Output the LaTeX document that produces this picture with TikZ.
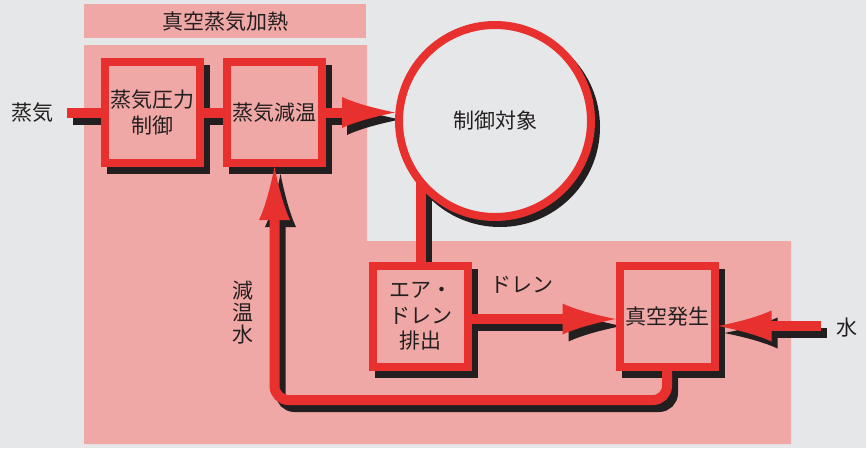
\documentclass[tikz,border=0pt]{standalone}
\usepackage{fontspec}
\newfontfamily\jp{Noto Sans CJK JP}
\usetikzlibrary{arrows.meta}
\definecolor{bg}{HTML}{E6E7E9}
\definecolor{pk}{HTML}{F0A8A6}
\definecolor{rd}{HTML}{E8302F}
\definecolor{sh}{HTML}{231F20}
\pgfdeclarearrow{
  name=Dart,
  parameters={\the\pgfarrowlength,\the\pgfarrowwidth},
  setup code={%
    \pgfarrowssettipend{0pt}%
    \pgfarrowssetlineend{-0.5\pgfarrowlength}%
    \pgfarrowssetbackend{-\pgfarrowlength}%
    \pgfarrowssavethe\pgfarrowlength
    \pgfarrowssavethe\pgfarrowwidth
  },
  drawing code={%
    \pgfpathmoveto{\pgfqpoint{0pt}{0pt}}%
    \pgfpathcurveto{\pgfqpoint{-0.4\pgfarrowlength}{0.14\pgfarrowwidth}}{\pgfqpoint{-0.75\pgfarrowlength}{0.3\pgfarrowwidth}}{\pgfqpoint{-\pgfarrowlength}{0.5\pgfarrowwidth}}%
    \pgfpathlineto{\pgfqpoint{-\pgfarrowlength}{-0.5\pgfarrowwidth}}%
    \pgfpathcurveto{\pgfqpoint{-0.75\pgfarrowlength}{-0.3\pgfarrowwidth}}{\pgfqpoint{-0.4\pgfarrowlength}{-0.14\pgfarrowwidth}}{\pgfqpoint{0pt}{0pt}}%
    \pgfpathclose
    \pgfusepathqfill
  },
  defaults={length=53pt, width=31pt}
}
\tikzset{
  jpfont/.style={font=\jp\fontsize{21}{25.5}\selectfont},
  box/.style={draw=rd, fill=pk, line width=8pt, minimum width=95pt, minimum height=101pt,
              inner sep=0pt, align=center, jpfont, text=sh},
  circ/.style={circle, draw=rd, fill=bg, line width=8pt, minimum size=192pt, inner sep=0pt,
              jpfont, text=sh},
  conn/.style={line width=10pt},
  arr/.style={conn, -{Dart}},
  lbl/.style={jpfont, text=sh, inner sep=0pt},
}
\begin{document}
\begin{tikzpicture}[x=1pt,y=-1pt]
\useasboundingbox (0,0) rectangle (866,448);
\fill[bg] (0,0) rectangle (866,448);
% pink regions
\fill[pk] (84,4) rectangle (366,38);
\fill[pk] (84,45) -- (367,45) -- (367,241) -- (791,241) -- (791,444) -- (84,444) -- cycle;
% shadows
\begin{scope}[shift={(6,7)}]
  \node[box, draw=sh, fill=sh] (b1s) at (152,112.5) {};
  \node[box, draw=sh, fill=sh] (b2s) at (274.5,112.5) {};
  \node[box, draw=sh, fill=sh] (b3s) at (420.5,316.5) {};
  \node[box, draw=sh, fill=sh] (b4s) at (667,316.5) {};
  \node[circ, draw=sh, fill=sh] (cs) at (494,120) {};
  \coordinate (s0s) at (67,113);
  \coordinate (w0s) at (821,326);
  \coordinate (bots) at (470,400);
  \draw[conn, sh] (s0s) -- (s0s -| b1s.west);
  \draw[conn, sh] (b1s.east) -- (b2s.west);
  \draw[arr, sh] (b2s.east) -- (b2s.east -| cs.west);
  \draw[conn, sh] (b3s.north) -- (b3s.north |- cs.center);
  \draw[arr, sh] ([yshift=-2.5pt]b3s.east) -- ([yshift=-2.5pt]b4s.west);
  \draw[arr, sh] (w0s) -- (w0s -| b4s.east);
  \draw[arr, sh, rounded corners=14pt] (b4s.south) |- (bots) -| (b2s.south);
\end{scope}
% coordinates
\coordinate (s0) at (67,113);
\coordinate (w0) at (821,326);
\coordinate (bot) at (470,400);
\node[circ, draw=none, fill=none] (c) at (495,121) {};
\node[box, draw=none, fill=none] (b1) at (152,112.5) {};
\node[box, draw=none, fill=none] (b2) at (274.5,112.5) {};
\node[box, draw=none, fill=none] (b3) at (420.5,316.5) {};
\node[box, draw=none, fill=none] (b4) at (667,316.5) {};
% red connectors
\draw[conn, rd] (s0) -- (s0 -| b1.west);
\draw[conn, rd] (b1.east) -- (b2.west);
\draw[arr, rd] (b2.east) -- (b2.east -| c.west);
\draw[conn, rd] (b3.north) -- (b3.north |- c.center);
\draw[arr, rd] ([yshift=-2.5pt]b3.east) -- ([yshift=-2.5pt]b4.west);
\draw[arr, rd] (w0) -- (w0 -| b4.east);
\draw[arr, rd, rounded corners=14pt] (b4.south) |- (bot) -| (b2.south);
% boxes
\node[box] (n1) at (b1) {蒸気圧力\\制御};
\node[box] (n2) at (b2) {蒸気減温};
\node[box] (n3) at (b3) {エア・\\ドレン\\排出};
\node[box] (n4) at (b4) {真空発生};
\node[circ] (n5) at (c) {制御対象};
% labels
\node[lbl] (tsteam) at (32,113) {蒸気};
\node[lbl] (title) at (225.5,22) {真空蒸気加熱};
\node[lbl] (tdrain) at (522,285) {ドレン};
\node[lbl, align=center, font=\jp\fontsize{21}{22}\selectfont] (tcool) at (243,313) {減\\温\\水};
\node[lbl] (twater) at (847,328) {水};
\end{tikzpicture}
\end{document}
